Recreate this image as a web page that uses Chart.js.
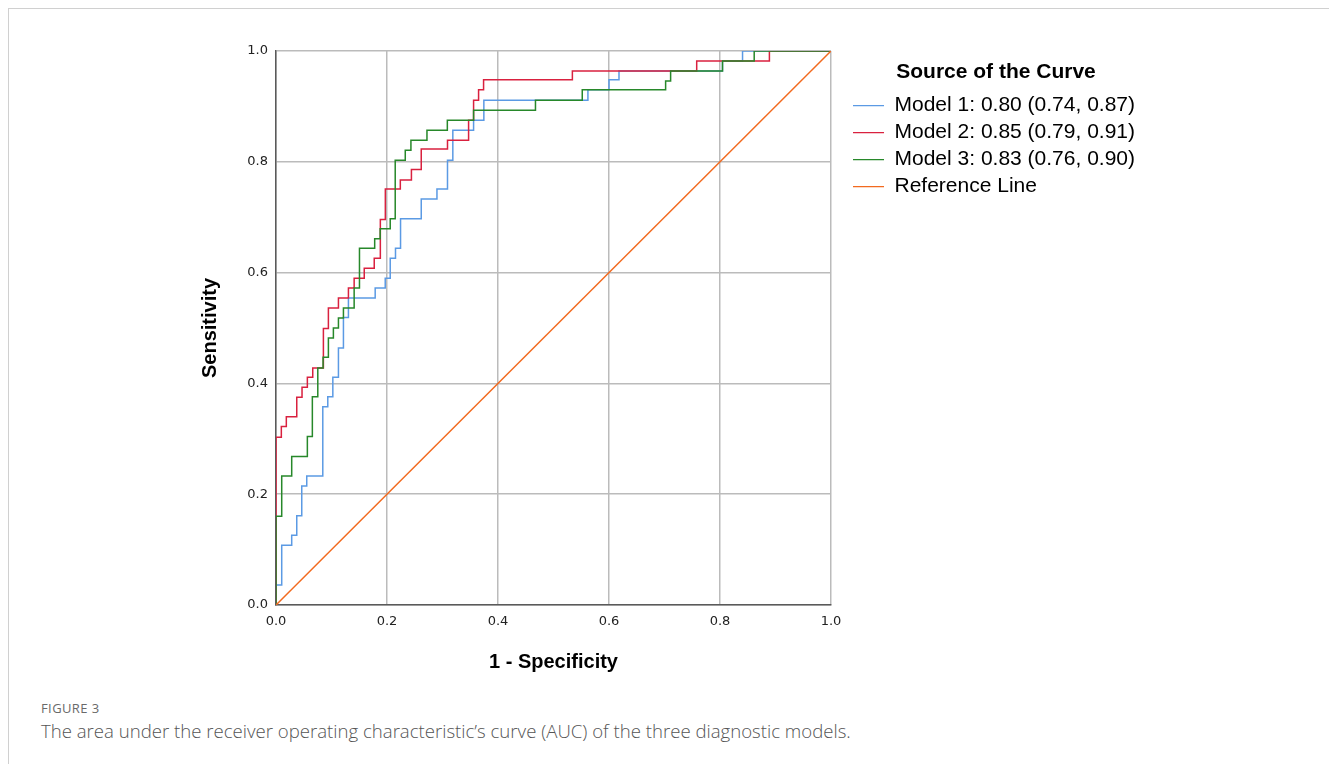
<!DOCTYPE html>
<html>
<head>
<meta charset="utf-8">
<script src="https://cdn.jsdelivr.net/npm/chart.js@4.4.1/dist/chart.umd.min.js"></script>
<style>
    body { margin: 0; background: #fff; width: 1329px; height: 764px; overflow: hidden; position: relative; }
    #frame { position: absolute; left: 8px; top: 8px; right: 0; bottom: 0; border-top: 1px solid #d0d0d0; border-left: 1px solid #d0d0d0; }
    #wrap { position: absolute; left: 0; top: 0; }
    .fig { position: absolute; left: 41px; top: 699px; font-family: "Open Sans", sans-serif; font-size: 13px; letter-spacing: 0.4px; color: #6a6a6a; }
    .cap { position: absolute; left: 41px; top: 718px; font-family: "Open Sans", sans-serif; font-size: 18.6px; color: #555; font-weight: 300; }
</style>
</head>
<body>
<div id="frame"></div>
<div id="wrap"><canvas id="roc" width="1329" height="690"></canvas></div>
<div class="fig">FIGURE 3</div>
<div class="cap">The area under the receiver operating characteristic’s curve (AUC) of the three diagnostic models.</div>
<script>
// ROC points (1 - specificity, sensitivity)
const model1Fpr = [0, 0, 0.0103, 0.0283, 0.0374, 0.0464, 0.0554, 0.0843, 0.0933, 0.1024, 0.1125, 0.1215, 0.1305, 0.1787, 0.1968, 0.2058, 0.2153, 0.2244, 0.2617, 0.290, 0.309, 0.3186, 0.356, 0.3745, 0.562, 0.600, 0.618, 0.8045, 0.8406, 1]
const model1Tpr = [0, 0.036, 0.108, 0.126, 0.161, 0.215, 0.233, 0.358, 0.376, 0.411, 0.464, 0.519, 0.554, 0.572, 0.590, 0.626, 0.644, 0.697, 0.733, 0.751, 0.803, 0.857, 0.875, 0.911, 0.930, 0.948, 0.964, 0.982, 1, 1]

const model2Fpr = [0, 0, 0.0096, 0.0186, 0.0374, 0.0469, 0.0565, 0.0662, 0.0854, 0.0944, 0.1125, 0.1305, 0.1408, 0.159, 0.177, 0.188, 0.197, 0.224, 0.244, 0.2617, 0.309, 0.347, 0.356, 0.365, 0.374, 0.534, 0.758, 0.889, 1]
const model2Tpr = [0, 0.303, 0.322, 0.340, 0.375, 0.393, 0.411, 0.428, 0.499, 0.536, 0.554, 0.572, 0.590, 0.608, 0.626, 0.696, 0.751, 0.767, 0.786, 0.823, 0.839, 0.875, 0.911, 0.930, 0.948, 0.964, 0.982, 1, 1]

const model3Fpr = [0, 0, 0.0103, 0.0283, 0.0565, 0.0655, 0.0753, 0.0848, 0.0944, 0.1034, 0.1125, 0.1215, 0.1408, 0.1504, 0.1778, 0.1877, 0.2058, 0.2148, 0.2329, 0.2431, 0.272, 0.3087, 0.356, 0.4675, 0.5518, 0.702, 0.711, 0.8045, 0.8616, 1]
const model3Tpr = [0, 0.16, 0.233, 0.268, 0.304, 0.376, 0.428, 0.447, 0.482, 0.5, 0.518, 0.536, 0.572, 0.644, 0.661, 0.679, 0.697, 0.803, 0.821, 0.839, 0.857, 0.875, 0.893, 0.911, 0.930, 0.946, 0.964, 0.982, 1, 1]

const refX = [0, 1]
const refY = [0, 1]

const seriesLabels = [
    "Model 1: 0.80 (0.74, 0.87)",
    "Model 2: 0.85 (0.79, 0.91)",
    "Model 3: 0.83 (0.76, 0.90)",
    "Reference Line"
]
const tickLabels = ["0.0", "0.2", "0.4", "0.6", "0.8", "1.0"]

function points(xs, ys) {
    return xs.map((x, i) => ({ x: x, y: ys[i] }))
}

const colors = ["#5b9ae4", "#d9213f", "#27882a", "#f26a1f"]
const tickFont = { family: "DejaVu Sans", size: 13 }
const titleFont = { family: "Liberation Sans", size: 20, weight: "bold" }

// "before": go right along the old sensitivity, then climb at the new x
const datasets = [
    { label: seriesLabels[0], data: points(model1Fpr, model1Tpr), stepped: "before", order: 4 },
    { label: seriesLabels[1], data: points(model2Fpr, model2Tpr), stepped: "before", order: 3 },
    { label: seriesLabels[2], data: points(model3Fpr, model3Tpr), stepped: "before", order: 2 },
    { label: seriesLabels[3], data: points(refX, refY), order: 1 },
].map((d, i) => Object.assign(d, {
    borderColor: colors[i],
    backgroundColor: colors[i],
    borderWidth: 1.5,
    pointRadius: 0,
    fill: false,
}))

new Chart(document.getElementById("roc"), {
    type: "line",
    data: { datasets: datasets },
    options: {
        responsive: false,
        animation: false,
        layout: { padding: { left: 190, top: 51, right: 184, bottom: 0 } },
        plugins: {
            tooltip: { enabled: false },
            legend: {
                position: "right",
                align: "start",
                maxWidth: 420,
                title: {
                    display: true,
                    text: "Source of the Curve",
                    color: "#000",
                    font: { family: "Liberation Sans", size: 21, weight: "bold" },
                    padding: { top: 11, bottom: 2 }
                },
                labels: {
                    color: "#000",
                    font: { family: "Liberation Sans", size: 21 },
                    boxWidth: 31,
                    boxHeight: 0,
                    padding: 6,
                    sort: (a, b) => a.datasetIndex - b.datasetIndex,
                    generateLabels(chart) {
                        const items = Chart.defaults.plugins.legend.labels.generateLabels(chart)
                        items.forEach(it => { it.lineWidth = 1.2 })
                        return items
                    }
                }
            }
        },
        scales: {
            x: {
                type: "linear",
                min: 0, max: 1,
                afterFit(s) { s.height = 85 },
                ticks: {
                    stepSize: 0.2,
                    padding: 9,
                    color: "#222",
                    font: tickFont,
                    callback: v => tickLabels[Math.round(v / 0.2)]
                },
                grid: { color: "#bbbbbb", lineWidth: 1.5, drawTicks: false },
                border: { color: "#5a5a5a", width: 1.5 },
                title: { display: true, text: "1 - Specificity", color: "#000", font: titleFont, padding: { top: 16, bottom: 16 } }
            },
            y: {
                type: "linear",
                min: 0, max: 1,
                afterFit(s) { s.width = 86 },
                ticks: {
                    stepSize: 0.2,
                    padding: 8,
                    color: "#222",
                    font: tickFont,
                    callback: v => tickLabels[Math.round(v / 0.2)]
                },
                grid: { color: "#bbbbbb", lineWidth: 1.5, drawTicks: false },
                border: { color: "#5a5a5a", width: 1.5 },
                title: { display: true, text: "Sensitivity", color: "#000", font: titleFont, padding: { top: 8, bottom: 8 } }
            },
            // empty spacer between plot and legend
            gap: {
                type: "linear",
                position: "right",
                min: 0, max: 1,
                afterFit(s) { s.width = 16 },
                ticks: { display: false },
                grid: { display: false },
                border: { display: false }
            }
        }
    }
})
</script>
</body>
</html>
